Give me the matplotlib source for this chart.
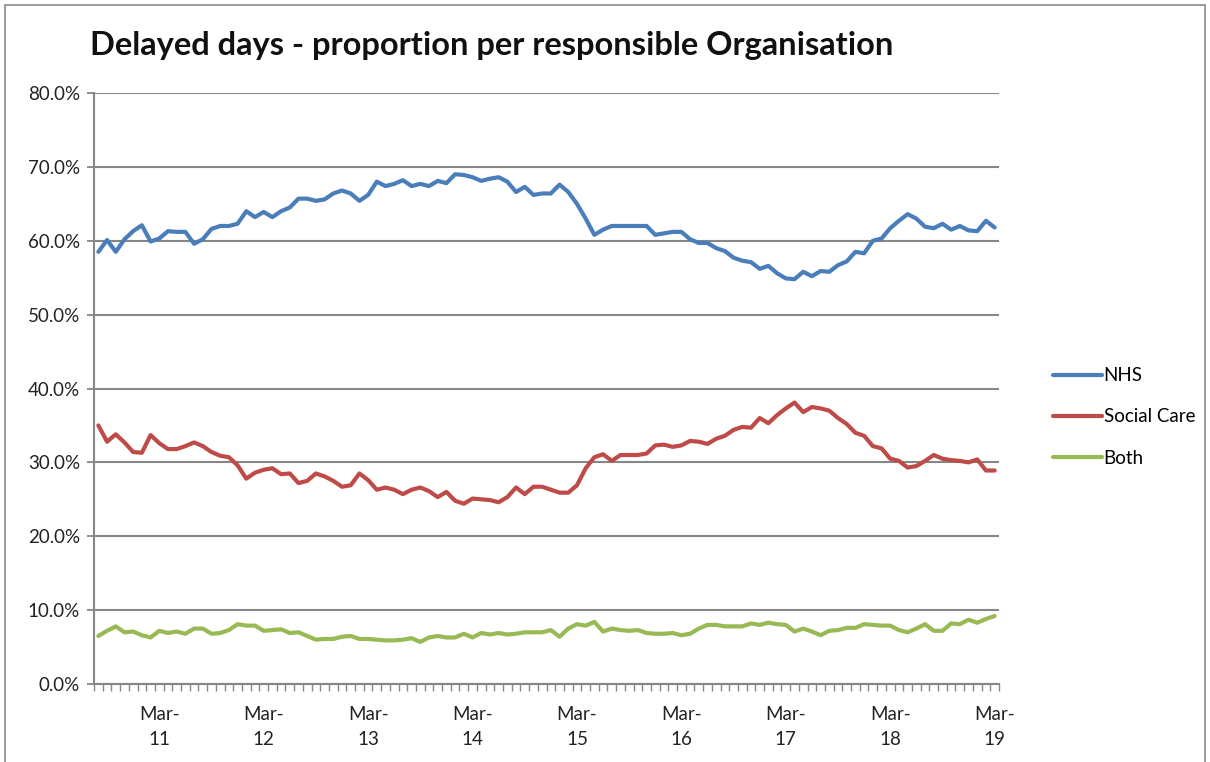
#!/usr/bin/env python3
"""Delayed days - proportion per responsible Organisation (monthly, Aug 2010 - Mar 2019)."""

import matplotlib
matplotlib.use("Agg")
import matplotlib.pyplot as plt
import numpy as np
import pandas as pd
from matplotlib.lines import Line2D

months = pd.date_range("2010-08-01", periods=104, freq="MS")

nhs = [
    58.5, 60.1, 58.5, 60.2, 61.3, 62.1, 59.9, 60.3, 61.3, 61.2,
    61.2, 59.6, 60.2, 61.6, 62.0, 62.0, 62.3, 64.0, 63.2, 63.9,
    63.2, 64.0, 64.5, 65.7, 65.7, 65.4, 65.6, 66.4, 66.8, 66.4,
    65.4, 66.2, 68.0, 67.4, 67.7, 68.2, 67.4, 67.7, 67.4, 68.1,
    67.8, 69.0, 68.9, 68.6, 68.1, 68.4, 68.6, 68.0, 66.6, 67.3,
    66.2, 66.4, 66.4, 67.6, 66.6, 65.0, 63.0, 60.8, 61.5, 62.0,
    62.0, 62.0, 62.0, 62.0, 60.8, 61.0, 61.2, 61.2, 60.2, 59.7,
    59.7, 59.0, 58.6, 57.7, 57.3, 57.1, 56.2, 56.6, 55.6, 54.9,
    54.8, 55.8, 55.2, 55.9, 55.8, 56.7, 57.2, 58.5, 58.3, 60.0,
    60.3, 61.7, 62.7, 63.6, 63.0, 61.9, 61.7, 62.3, 61.5, 62.0,
    61.4, 61.3, 62.7, 61.8,
]

social_care = [
    35.0, 32.8, 33.8, 32.7, 31.4, 31.3, 33.7, 32.6, 31.8, 31.8,
    32.2, 32.7, 32.2, 31.4, 30.9, 30.7, 29.6, 27.8, 28.6, 29.0,
    29.2, 28.4, 28.5, 27.2, 27.5, 28.5, 28.1, 27.5, 26.7, 26.9,
    28.5, 27.6, 26.3, 26.6, 26.3, 25.7, 26.3, 26.6, 26.1, 25.3,
    26.0, 24.8, 24.4, 25.1, 25.0, 24.9, 24.6, 25.3, 26.6, 25.7,
    26.7, 26.7, 26.3, 25.9, 25.9, 26.9, 29.2, 30.7, 31.1, 30.2,
    31.0, 31.0, 31.0, 31.2, 32.3, 32.4, 32.1, 32.3, 32.9, 32.8,
    32.5, 33.2, 33.6, 34.4, 34.8, 34.7, 36.0, 35.3, 36.4, 37.3,
    38.1, 36.8, 37.5, 37.3, 37.0, 36.0, 35.2, 34.0, 33.6, 32.2,
    31.9, 30.5, 30.2, 29.3, 29.5, 30.2, 31.0, 30.5, 30.3, 30.2,
    30.0, 30.4, 28.9, 28.9,
]

both = [
    6.5, 7.2, 7.8, 7.0, 7.1, 6.6, 6.3, 7.2, 6.9, 7.1,
    6.8, 7.5, 7.5, 6.8, 6.9, 7.3, 8.1, 7.9, 7.9, 7.2,
    7.3, 7.4, 6.9, 7.0, 6.5, 6.0, 6.1, 6.1, 6.4, 6.5,
    6.1, 6.1, 6.0, 5.9, 5.9, 6.0, 6.2, 5.7, 6.3, 6.5,
    6.3, 6.3, 6.8, 6.3, 6.9, 6.7, 6.9, 6.7, 6.8, 7.0,
    7.0, 7.0, 7.3, 6.4, 7.5, 8.1, 7.9, 8.4, 7.1, 7.5,
    7.3, 7.2, 7.3, 6.9, 6.8, 6.8, 6.9, 6.6, 6.8, 7.5,
    8.0, 8.0, 7.8, 7.8, 7.8, 8.2, 8.0, 8.3, 8.1, 8.0,
    7.1, 7.5, 7.1, 6.6, 7.2, 7.3, 7.6, 7.6, 8.1, 8.0,
    7.9, 7.9, 7.3, 7.0, 7.5, 8.1, 7.2, 7.2, 8.2, 8.1,
    8.7, 8.3, 8.8, 9.2,
]

series_names = ["NHS", "Social Care", "Both"]
colors = ["#4A7EBB", "#BE4B48", "#98B954"]
y_ticks = [0, 10, 20, 30, 40, 50, 60, 70, 80]

font = "Lato"
grid_color = "#878787"

fig = plt.figure(figsize=(12.1, 7.62), dpi=100)
ax = fig.add_axes([94 / 1210, 1 - 684 / 762, (999 - 94) / 1210, (684 - 93) / 762])

x = np.arange(len(months))
for vals, name, color in zip([nhs, social_care, both], series_names, colors):
    ax.plot(x, vals, color=color, linewidth=3.0, solid_joinstyle="round",
            solid_capstyle="round", label=name, zorder=3)

ax.set_xlim(-0.5, len(months) - 0.5)
ax.set_ylim(0, 80)

# y axis
ax.set_yticks(y_ticks)
ax.set_yticklabels([f"{v:.1f}%" for v in y_ticks], fontsize=13.5, family=font, color="#222222")
ax.yaxis.grid(True, color=grid_color, linewidth=1.5, zorder=0)
ax.tick_params(axis="y", length=5, width=1.3, color=grid_color, pad=5)

# x axis: tick marks on category boundaries, labels at each March
ax.set_xticks(np.arange(-0.5, len(months), 1.0))
ax.set_xticklabels([])
ax.tick_params(axis="x", which="major", length=5, width=1.0, color=grid_color, direction="out")
label_pos = [i for i, m in enumerate(months) if m.month == 3]
label_txt = [f"Mar-\n{m.strftime('%y')}" for m in months if m.month == 3]
ax.set_xticks(label_pos, minor=True)
ax.set_xticklabels(label_txt, minor=True, fontsize=13.5, family=font, color="#222222",
                   linespacing=1.55)
ax.tick_params(axis="x", which="minor", length=0, pad=16)

for side in ["top", "right"]:
    ax.spines[side].set_visible(False)
for side in ["left", "bottom"]:
    ax.spines[side].set_color(grid_color)
    ax.spines[side].set_linewidth(1.5)

fig.text(90 / 1210, 1 - 46 / 762, "Delayed days - proportion per responsible Organisation",
         fontsize=23.5, fontweight="bold", family=font, color="#111111", va="center", ha="left")

handles = [Line2D([], [], color=c, linewidth=3.0, solid_capstyle="round") for c in colors]
fig.legend(handles, series_names, loc="center left", bbox_to_anchor=(1036 / 1210, 1 - 417 / 762),
           frameon=False, prop={"family": font, "size": 13.5}, handlelength=2.6,
           handletextpad=0.1, labelspacing=1.3)

# outer chart border
fig.add_artist(plt.Rectangle((5 / 1210, -0.05), 1200 / 1210, 1.05 - 5 / 762,
                             transform=fig.transFigure, fill=False,
                             edgecolor="#8a8a8a", linewidth=1.2))

fig.savefig("out.png", dpi=100)
